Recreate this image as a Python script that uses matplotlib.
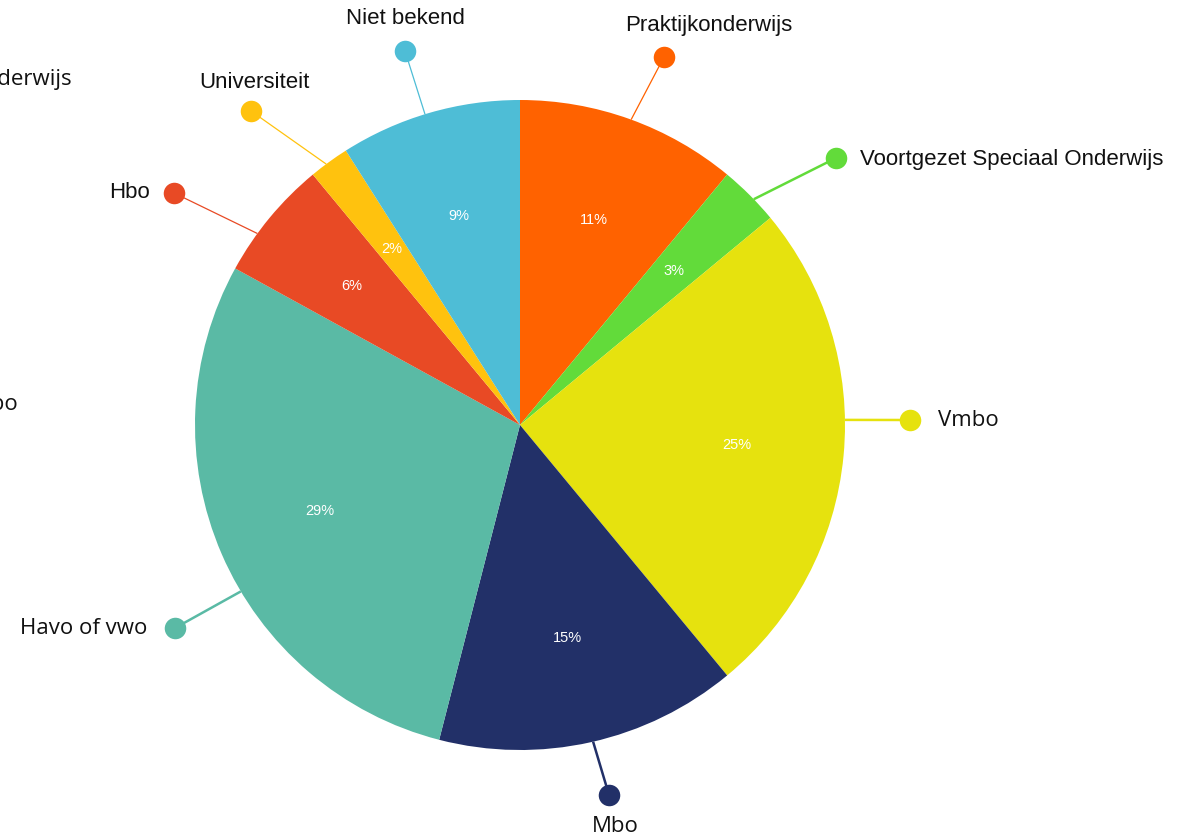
import matplotlib.pyplot as plt
import numpy as np

# figure size in pixels
W, H = 1177, 839

categories = ["Praktijkonderwijs", "Voortgezet Speciaal Onderwijs", "Vmbo", "Mbo",
              "Havo of vwo", "Hbo", "Universiteit", "Niet bekend"]
values = [11, 3, 25, 15, 29, 6, 2, 9]
colors = ["#FF6200", "#62DB3A", "#E6E20E", "#223068",
          "#5ABAA5", "#E84A25", "#FFC20E", "#4EBDD6"]

# pie geometry (pixels, y downwards)
cx, cy, R = 520, 425, 325

# label layout: connector start angle on rim, dot position, text position, alignment, font, line width
layout = {
    "Praktijkonderwijs": (70, (664, 57), (709, 25), "center", "Liberation Sans", 0.9),
    "Voortgezet Speciaal Onderwijs": (44, (836, 158), (860, 160), "left", "Liberation Sans", 1.8),
    "Vmbo": (0.9, (910, 420), (938, 421), "left", "Open Sans", 1.8),
    "Mbo": (-77, (609, 795), (615, 827), "center", "Open Sans", 1.8),
    "Havo of vwo": (210.8, (175, 628), (147, 628), "right", "Open Sans", 1.8),
    "Hbo": (143.9, (174, 193), (150, 193), "right", "Liberation Sans", 0.9),
    "Universiteit": (126.6, (251, 111), (254, 82), "center", "Liberation Sans", 0.9),
    "Niet bekend": (107, (405, 51), (405, 19), "center", "Liberation Sans", 0.9),
}

fig = plt.figure(figsize=(W / 100, H / 100), dpi=100)
ax = fig.add_axes([0, 0, 1, 1])

# y axis is inverted below, so counterclock=True runs clockwise on screen
wedges, texts, autotexts = ax.pie(
    values, colors=colors, center=(cx, cy), radius=R,
    startangle=-90, counterclock=True,
    autopct=lambda p: "%d%%" % round(p), pctdistance=0.67,
    wedgeprops={"linewidth": 0},
    textprops={"color": "white", "fontsize": 10.5, "family": "Liberation Sans"},
)

for cat, col in zip(categories, colors):
    ang, dot, txt, ha, fam, lw = layout[cat]
    a = np.radians(ang)
    x0 = cx + R * np.cos(a)
    y0 = cy - R * np.sin(a)
    ax.plot([x0, dot[0]], [y0, dot[1]], color=col, lw=lw, solid_capstyle="butt", zorder=3)
    ax.plot(dot[0], dot[1], "o", color=col, markersize=15.5, markeredgewidth=0, zorder=4)
    ax.text(txt[0], txt[1], cat, ha=ha, va="center", fontsize=16,
            family=fam, color="#111111")

# clipped labels from a neighbouring chart at the left edge
ax.text(73, 80, "Praktijkonderwijs", ha="right", va="center", fontsize=16,
        family="Open Sans", color="#111111")
ax.text(18, 405, "Vmbo", ha="right", va="center", fontsize=16,
        family="Open Sans", color="#111111")

ax.set_xlim(0, W)
ax.set_ylim(H, 0)
ax.set_aspect("equal")
ax.axis("off")

fig.savefig("out.png", dpi=100)
